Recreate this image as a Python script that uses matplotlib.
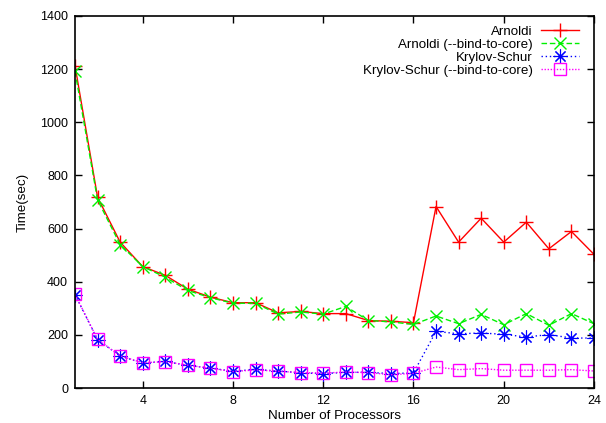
import matplotlib
matplotlib.use("Agg")
import matplotlib.pyplot as plt

procs = list(range(1, 25))
arnoldi = [1213, 718, 549, 457, 424, 372, 342, 321, 321, 283, 288, 280,
           280, 254, 251, 246, 683, 549, 639, 549, 624, 524, 589, 503]
arnoldi_bind = [1192, 708, 540, 457, 417, 367, 340, 319, 319, 278, 286, 278,
                307, 254, 249, 239, 271, 242, 277, 238, 280, 236, 280, 242]
krylov = [351, 182, 120, 94, 100, 85, 75, 63, 70, 64, 57, 54,
          59, 59, 54, 57, 213, 204, 207, 202, 192, 201, 188, 188]
krylov_bind = [353, 183, 121, 95, 99, 86, 74, 62, 68, 63, 58, 56,
               60, 58, 50, 55, 79, 69, 73, 67, 67, 67, 69, 64]

plt.rcParams['font.family'] = ['Liberation Sans', 'DejaVu Sans']
plt.rcParams['font.size'] = 9.6

fig = plt.figure(figsize=(6.06, 4.23), dpi=100)
ax = fig.add_axes([75/606, 35/423, 519/606, 372/423])

ax.plot(procs, arnoldi, color='#ff0000', lw=1, ls='-', marker='+', ms=10,
        mew=1, label='Arnoldi')
ax.plot(procs, arnoldi_bind, color='#00f000', lw=1, ls=(0, (4, 2)), marker='x', ms=9,
        mew=1, label='Arnoldi (--bind-to-core)')
ax.plot(procs, krylov, color='#0000ff', lw=1, ls=(0, (1, 2)), marker=(8, 2, 0), ms=10,
        mew=0.8, label='Krylov-Schur')
ax.plot(procs, krylov_bind, color='#ff00ff', lw=1, ls=(0, (1, 1.2)), marker='s', ms=9,
        mew=1, mfc='none', label='Krylov-Schur (--bind-to-core)')

ax.set_xlim(1, 24)
ax.set_ylim(0, 1400)
ax.set_xticks([4, 8, 12, 16, 20, 24])
ax.set_yticks(range(0, 1401, 200))
ax.tick_params(direction='in', top=True, right=True, length=5, width=1,
               pad=5, labelsize=9)
for s in ax.spines.values():
    s.set_linewidth(1.2)

ax.set_xlabel('Number of Processors', labelpad=2)
ax.set_ylabel('Time(sec)', labelpad=8)

ax.legend(loc='upper right', frameon=False, markerfirst=False,
          handlelength=2.9, handletextpad=0.6, labelspacing=0.05,
          borderaxespad=0.3, bbox_to_anchor=(0.99, 1.0))

fig.savefig('out.png', dpi=100)
